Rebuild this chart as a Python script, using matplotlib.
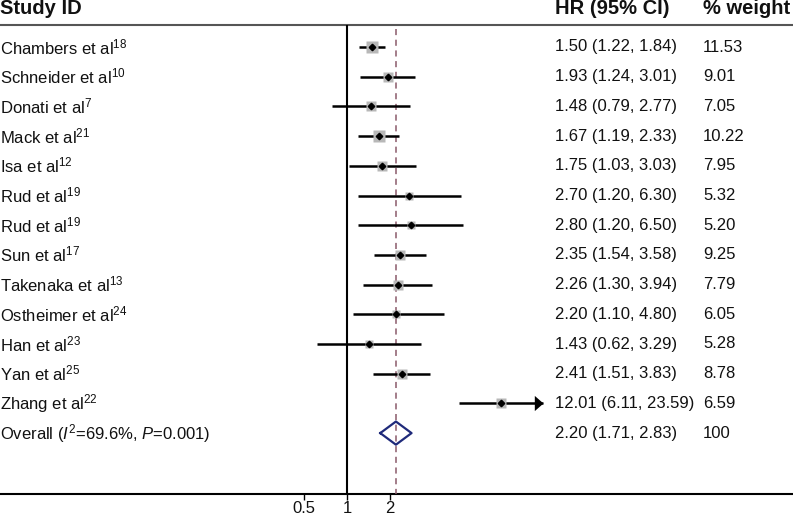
import numpy as np
import matplotlib.pyplot as plt
import matplotlib.transforms as mtransforms

plt.rcParams['font.family'] = ['Liberation Sans', 'DejaVu Sans']
plt.rcParams['mathtext.fontset'] = 'custom'
plt.rcParams['mathtext.rm'] = 'Liberation Sans'
plt.rcParams['mathtext.it'] = 'Liberation Sans:italic'

names = ['Chambers', 'Schneider', 'Donati', 'Mack', 'Isa', 'Rud', 'Rud', 'Sun',
         'Takenaka', 'Ostheimer', 'Han', 'Yan', 'Zhang']
refs = ['18', '10', '7', '21', '12', '19', '19', '17', '13', '24', '23', '25', '22']
hr = [1.50, 1.93, 1.48, 1.67, 1.75, 2.70, 2.80, 2.35, 2.26, 2.20, 1.43, 2.41, 12.01]
lo = [1.22, 1.24, 0.79, 1.19, 1.03, 1.20, 1.20, 1.54, 1.30, 1.10, 0.62, 1.51, 6.11]
hi = [1.84, 3.01, 2.77, 2.33, 3.03, 6.30, 6.50, 3.58, 3.94, 4.80, 3.29, 3.83, 23.59]
weight = [11.53, 9.01, 7.05, 10.22, 7.95, 5.32, 5.20, 9.25, 7.79, 6.05, 5.28, 8.78, 6.59]

overall_label = r'Overall ($\mathit{I}^{2}$=69.6%, $\mathit{P}$=0.001)'
overall_hr, overall_lo, overall_hi = 2.20, 1.71, 2.83

ticks = [0.5, 1, 2]
tick_labels = ['0.5', '1', '2']
ci_cap = 20  # CIs beyond this end in an arrow
W, H = 793, 518
fs = 12
txt = '#111111'

fig = plt.figure(figsize=(W / 100, H / 100), dpi=100)
bg = fig.add_axes([0, 0, 1, 1])
bg.set_xlim(0, W)
bg.set_ylim(H, 0)
bg.axis('off')

# plot axes: 1 at x=347px, 43 px per doubling
x_left, x_right = 290, 550
y_top, y_bot = 25, 494
row0, row_step = 47, 29.7
ax = fig.add_axes([x_left / W, 1 - y_bot / H, (x_right - x_left) / W, (y_bot - y_top) / H])
ax.set_xscale('log', base=2)
ax.set_xlim(2 ** ((x_left - 347) / 43), 2 ** ((x_right - 347) / 43))
ax.set_ylim((y_bot - row0) / row_step, (y_top - row0) / row_step)
ax.patch.set_alpha(0)
for s in ax.spines.values():
    s.set_visible(False)
ax.set_yticks([])
ax.set_xticks(ticks)
ax.set_xticklabels(tick_labels)
ax.xaxis.set_minor_locator(plt.NullLocator())
ax.tick_params(axis='x', direction='out', length=4, width=1, pad=1, labelsize=fs,
               labelcolor=txt)

n = len(names)
arrow_head = [(-8, -7), (0, 0), (-8, 7)]

ax.axvline(1, color='black', lw=1.5)
ax.plot([overall_hr, overall_hr], [-0.6, ax.get_ylim()[0]], color='#8a5a6a', lw=1.1,
        ls=(0, (4, 3)))

for i in range(n):
    ax.plot([lo[i], hi[i]], [i, i], color='black', lw=1.8, solid_capstyle='butt')
    if hi[i] > ci_cap:
        ax.plot(hi[i], i, marker=arrow_head, ms=12.5, color='black', mec='none',
                clip_on=False, zorder=4)
    ms = 8.8 * np.sqrt(weight[i] / 11.53)
    ax.plot(hr[i], i, marker='s', ms=ms, color='#b8b8b8', mec='none', zorder=3)
    ax.plot(hr[i], i, marker='D', ms=3.3, color='black', zorder=4)

# overall diamond
yo = n
dx = [overall_lo, overall_hr, overall_hi, overall_hr, overall_lo]
dy = [yo, yo - 0.39, yo, yo + 0.39, yo]
ax.plot(dx, dy, color='#1f2a7a', lw=1.6, zorder=4)

# table text
trans = mtransforms.blended_transform_factory(bg.transData, ax.transData)
for x, head in [(0, 'Study ID'), (555, 'HR (95% CI)'), (703, '% weight')]:
    bg.text(x, 9, head, fontsize=14.5, fontweight='bold', va='center', color=txt)
bg.plot([0, W], [y_top, y_top], color='#555555', lw=1.5)
bg.plot([0, W - 1], [y_bot, y_bot], color='black', lw=1.5)

for i in range(n):
    label = r'$\mathrm{%s\ et\ al}^{%s}$' % (names[i], refs[i])
    bg.text(0, i, label, transform=trans, fontsize=fs, va='center', color=txt)
    bg.text(555, i, f'{hr[i]:.2f} ({lo[i]:.2f}, {hi[i]:.2f})', transform=trans,
            fontsize=fs, va='center', color=txt)
    bg.text(703, i, f'{weight[i]:.2f}', transform=trans, fontsize=fs, va='center', color=txt)

bg.text(0, yo, overall_label, transform=trans, fontsize=fs, va='center', color=txt)
bg.text(555, yo, f'{overall_hr:.2f} ({overall_lo:.2f}, {overall_hi:.2f})', transform=trans,
        fontsize=fs, va='center', color=txt)
bg.text(703, yo, '100', transform=trans, fontsize=fs, va='center', color=txt)

fig.savefig('out.png', dpi=100)
